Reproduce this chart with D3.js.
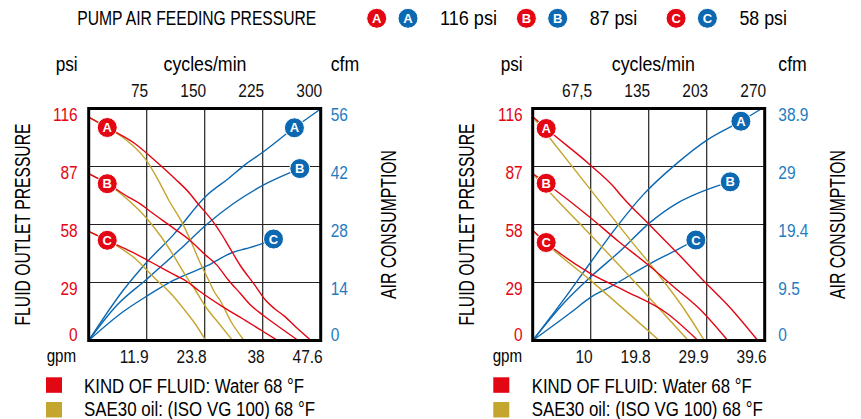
<!DOCTYPE html>
<html>
<head>
<meta charset="utf-8">
<script src="https://cdn.jsdelivr.net/npm/d3@7"></script>
<style>
  body { margin: 0; background: #fff; }
  svg text { font-family: "Liberation Sans", Arial, "DejaVu Sans", sans-serif; }
  svg text.badge { font-weight: bold; }
</style>
</head>
<body>
<svg id="vis" width="861" height="419"></svg>
<script>
// ---- data ----
const feedLetters = ["A", "B", "C"];
const feedPressures = ["116 psi", "87 psi", "58 psi"];
const fluidNames = ["KIND OF FLUID: Water 68 °F", "SAE30 oil: (ISO VG 100) 68 °F"];

const psiLabels = ["0", "29", "58", "87", "116"];
const leftCycleLabels = ["75", "150", "225", "300"];
const leftGpmLabels = ["11.9", "23.8", "38", "47.6"];
const leftCfmLabels = ["0", "14", "28", "42", "56"];
const rightCycleLabels = ["67,5", "135", "203", "270"];
const rightGpmLabels = ["10", "19.8", "29.9", "39.6"];
const rightCfmLabels = ["0", "9.5", "19.4", "29", "38.9"];

// [cycles/min, psi] for fluid curves, [cycles/min, cfm] for air curves
const leftWaterA = [[0,111.7],[24,106.5],[60,98.4],[86,89.9],[111.6,80.9],[131,73.4],[140,69],[161,59.3],[172,53],[180.4,47.6],[196,37.5],[214.8,27.7],[228,20.5],[240,16],[253,12.2],[270,6],[286,0.5]];
const leftWaterB = [[0,83.4],[24,78.4],[51.4,71.7],[66.6,68.3],[81.5,64],[107.4,56.8],[131.2,50],[150.3,43],[165.8,37.7],[180,30.5],[195.9,23.6],[210,17.5],[226,12.5],[249,6],[269,0.5]];
const leftWaterC = [[0,54.6],[24,50.1],[55.7,44.3],[81.5,39],[111.6,32.7],[127,29.5],[141.7,25.1],[171.9,17.2],[201.9,10.2],[223.5,5],[242,0.5]];
const leftOilA = [[0,111.7],[24,106.5],[49.3,100],[72.9,90.9],[90.1,80.1],[103,70.5],[120.3,59.3],[131.2,50.5],[143.9,39],[152.8,32],[163,24],[170,20],[184.7,9],[200,0.5]];
const leftOilB = [[0,83.4],[24,78.4],[51.4,70.1],[72.9,62],[94.4,51.5],[109.4,42.7],[124.5,33],[137.4,25.5],[152.8,16],[167.5,9],[185,0.5]];
const leftOilC = [[0,54.6],[24,50.1],[60,41],[85.8,31],[101.1,25.5],[107.4,23],[124.5,15],[137.4,8.5],[150.5,0.5]];
const leftAirA = [[0,0],[44.9,12.2],[70.7,18],[109.4,25.5],[152.5,35],[180,39],[204.1,42.7],[225.5,45.5],[264.2,51.1],[300,55.9]];
const leftAirB = [[0,0],[36.4,8.5],[75,14.8],[118.1,22],[152.5,28],[186.8,33],[229.9,37.9],[273,41.5]];
const leftAirC = [[0,0],[44.9,7],[75,10.7],[109.4,14.5],[152.5,18],[186.8,21.3],[204.1,22.2],[226,23.5],[239,24.5]];

const rightWaterA = [[0,111.9],[15.7,106],[66.9,87.8],[94,77],[103.8,72],[136.7,57.5],[170,43],[202.7,28.2],[228.7,16.9],[261,0.5]];
const rightWaterB = [[0,83.5],[15.7,78.6],[66.9,61.5],[100,49.5],[136.7,37],[165,26.5],[194.9,15.5],[226,0.5]];
const rightWaterC = [[0,55],[15.7,49],[66.9,33.6],[105.7,25.2],[156.2,13.6],[191,0.5]];
const rightOilA = [[0,111.9],[15.7,103.5],[76.6,70.3],[113.5,50.3],[144.5,34],[175,16.5],[199,0.5]];
const rightOilB = [[0,83.5],[15.7,76],[66.9,53],[129,24.5],[180,0.5]];
const rightOilC = [[0,55],[15.7,48.5],[66.9,30.2],[146,0.5]];
const rightAirA = [[0,0],[35.8,6.8],[66.9,13],[98,19.1],[129,24.5],[167.8,29.7],[202.7,33.6],[241.5,36.7],[266.7,38.9]];
const rightAirB = [[0,0],[35.8,6.2],[66.9,10.6],[101.8,15],[136.7,19.8],[167.8,23],[202.7,25.3],[229.9,26.6]];
const rightAirC = [[0,0],[43.6,4.6],[66.9,7.2],[90.2,9],[136.7,12.9],[167.8,15.2],[189.1,16.85]];

// where the A/B/C badges sit along the curves (cycles/min)
const leftWaterBadgeAt = 24;
const leftAirBadgeAt = [266, 273, 239];
const rightWaterBadgeAt = 15.7;
const rightAirBadgeAt = [242.3, 229.9, 189.9];

// ---- layout ----
const SIZE = 232;
const TOP = 108.5;
const BOTTOM = TOP + SIZE;
const PSI_MAX = 116;

const RED = "#e30613", BLUE = "#0b68b1", GOLD = "#c4a52e";
const RED_TXT = "#e30613", BLUE_TXT = "#1f7cc1";

const svg = d3.select("#vis");

// the original uses a condensed face: squeeze the text horizontally
function condense(sel, f) {
    sel.each(function(){
        const w = this.getComputedTextLength();
        d3.select(this).attr("textLength", w * f).attr("lengthAdjust", "spacingAndGlyphs");
    });
}

// value of a polyline series at a given x, linear between read points
function valueAt(series, c) {
    for (let i = 1; i < series.length; i++) {
        if (c <= series[i][0]) {
            const a = series[i - 1], b = series[i];
            return a[1] + (b[1] - a[1]) * (c - a[0]) / (b[0] - a[0]);
        }
    }
    return series[series.length - 1][1];
}

function badge(g, cx, cy, letter, fill) {
    g.append("circle").attr("cx", cx).attr("cy", cy).attr("r", 10)
        .attr("fill", fill).attr("stroke", "#fff").attr("stroke-width", 1);
    g.append("text").attr("class", "badge")
        .attr("x", cx).attr("y", cy + 4.6)
        .attr("text-anchor", "middle").attr("font-size", 13)
        .attr("fill", "#fff").text(letter);
}

// ---- header ----
svg.append("text").attr("x", 77.3).attr("y", 25)
    .attr("font-size", 20).attr("textLength", 239).attr("lengthAdjust", "spacingAndGlyphs")
    .text("PUMP AIR FEEDING PRESSURE");

feedLetters.forEach(function(l, i){
    const base = 376.7 + i * 149.7;
    badge(svg, base, 18.3, l, RED);
    badge(svg, base + 31.3, 18.3, l, BLUE);
    svg.append("text").attr("x", base + 63.3).attr("y", 25)
        .attr("font-size", 20).attr("textLength", i === 0 ? 57 : 47.5)
        .attr("lengthAdjust", "spacingAndGlyphs")
        .text(feedPressures[i]);
});

// ---- one chart ----
function drawChart(cfg) {
    const g = svg.append("g");
    const x = d3.scaleLinear().domain([0, cfg.cyclesMax]).range([cfg.x0, cfg.x0 + SIZE]);
    const yP = d3.scaleLinear().domain([0, PSI_MAX]).range([BOTTOM, TOP]);
    const yC = d3.scaleLinear().domain([0, cfg.cfmMax]).range([BOTTOM, TOP]);

    const xTicks = [1, 2, 3, 4].map(i => cfg.cyclesMax * i / 4);
    const psiTicks = [0, 1, 2, 3, 4].map(i => PSI_MAX * i / 4);
    const cfmTicks = [0, 1, 2, 3, 4].map(i => cfg.cfmMax * i / 4);

    // grid
    g.selectAll("line.vg").data(xTicks.slice(0, 3)).join("line")
        .attr("x1", d => x(d)).attr("x2", d => x(d))
        .attr("y1", TOP).attr("y2", BOTTOM)
        .attr("stroke", "#222").attr("stroke-width", 1.2);
    g.selectAll("line.hg").data(psiTicks.slice(1, 4)).join("line")
        .attr("y1", d => yP(d)).attr("y2", d => yP(d))
        .attr("x1", cfg.x0).attr("x2", cfg.x0 + SIZE)
        .attr("stroke", "#222").attr("stroke-width", 1.2);

    // axes: cycles on top, gpm at bottom, psi left, cfm right
    g.append("g").attr("transform", `translate(0,${TOP - 12})`)
        .call(d3.axisTop(x).tickValues(xTicks).tickSize(0).tickPadding(0)
            .tickFormat((d, i) => cfg.cycles[i]))
        .attr("font-size", 18).attr("font-family", null)
        .call(a => a.select(".domain").remove())
        .selectAll("text").attr("text-anchor", "end").attr("x", 1).attr("dy", 0).attr("fill", "#111")
        .call(condense, 0.86);

    g.append("g").attr("transform", `translate(0,${BOTTOM + 22.5})`)
        .call(d3.axisBottom(x).tickValues(xTicks).tickSize(0).tickPadding(0)
            .tickFormat((d, i) => cfg.gpm[i]))
        .attr("font-size", 18).attr("font-family", null)
        .call(a => a.select(".domain").remove())
        .selectAll("text").attr("text-anchor", "end").attr("x", 1.5).attr("y", 0).attr("dy", 0).attr("fill", "#111")
        .call(condense, 0.86);

    g.append("g").attr("transform", `translate(${cfg.leftTickEnd},0)`)
        .call(d3.axisLeft(yP).tickValues(psiTicks).tickSize(0).tickPadding(0)
            .tickFormat((d, i) => psiLabels[i]))
        .attr("font-size", 18).attr("font-family", null)
        .call(a => a.select(".domain").remove())
        .selectAll("text").attr("x", 0).attr("dy", 0)
        .attr("y", d => d === 0 ? 0 : 11.5).attr("fill", RED_TXT)
        .call(condense, 0.86);

    g.append("g").attr("transform", `translate(${cfg.rightTickStart},0)`)
        .call(d3.axisRight(yC).tickValues(cfmTicks).tickSize(0).tickPadding(0)
            .tickFormat((d, i) => cfg.cfm[i]))
        .attr("font-size", 18).attr("font-family", null)
        .call(a => a.select(".domain").remove())
        .selectAll("text").attr("x", 0).attr("dy", 0)
        .attr("y", d => d === 0 ? 0 : 11.5).attr("fill", BLUE_TXT)
        .call(condense, 0.86);

    // titles
    g.append("text").attr("x", cfg.leftTickEnd).attr("y", 70.5).attr("text-anchor", "end")
        .attr("font-size", 20).attr("textLength", 22).attr("lengthAdjust", "spacingAndGlyphs").text("psi");
    g.append("text").attr("x", cfg.cyclesX).attr("y", 70.5).attr("text-anchor", "middle")
        .attr("font-size", 20).attr("textLength", 83).attr("lengthAdjust", "spacingAndGlyphs").text("cycles/min");
    g.append("text").attr("x", cfg.rightTickStart).attr("y", 70.5)
        .attr("font-size", 20).attr("textLength", 28.5).attr("lengthAdjust", "spacingAndGlyphs").text("cfm");
    g.append("text").attr("x", cfg.col).attr("y", 361.5)
        .attr("font-size", 18).attr("textLength", 29.5).attr("lengthAdjust", "spacingAndGlyphs").text("gpm");

    const midY = (TOP + BOTTOM) / 2;
    const fx = cfg.x0 - 66.7 + 8;
    g.append("text").attr("transform", `translate(${fx},${midY}) rotate(-90)`)
        .attr("text-anchor", "middle").attr("font-size", 22)
        .attr("textLength", 202).attr("lengthAdjust", "spacingAndGlyphs")
        .text("FLUID OUTLET PRESSURE");
    const ax = cfg.airX + 8;
    g.append("text").attr("transform", `translate(${ax},${midY}) rotate(-90)`)
        .attr("text-anchor", "middle").attr("font-size", 22)
        .attr("textLength", 149).attr("lengthAdjust", "spacingAndGlyphs")
        .text("AIR CONSUMPTION");

    // curves
    const lineP = d3.line().x(d => x(d[0])).y(d => yP(d[1])).curve(d3.curveMonotoneX);
    const lineC = d3.line().x(d => x(d[0])).y(d => yC(d[1])).curve(d3.curveMonotoneX);

    g.selectAll("path.air").data(cfg.air).join("path")
        .attr("d", lineC).attr("fill", "none").attr("stroke", BLUE).attr("stroke-width", 1.4);
    g.selectAll("path.oil").data(cfg.oil).join("path")
        .attr("d", lineP).attr("fill", "none").attr("stroke", GOLD).attr("stroke-width", 1.4);
    g.selectAll("path.water").data(cfg.water).join("path")
        .attr("d", lineP).attr("fill", "none").attr("stroke", RED).attr("stroke-width", 1.4);

    // frame
    g.append("rect").attr("x", cfg.x0).attr("y", TOP).attr("width", SIZE).attr("height", SIZE)
        .attr("fill", "none").attr("stroke", "#000").attr("stroke-width", 3);

    // badges
    cfg.water.forEach(function(s, i){
        const c = cfg.waterBadgeAt;
        badge(g, x(c), yP(valueAt(s, c)), feedLetters[i], RED);
    });
    cfg.air.forEach(function(s, i){
        const c = cfg.airBadgeAt[i];
        badge(g, x(c), yC(valueAt(s, c)), feedLetters[i], BLUE);
    });

    // legend
    [RED, GOLD].forEach(function(col, i){
        g.append("rect").attr("x", cfg.legX).attr("y", 377.3 + i * 24.7)
            .attr("width", 16).attr("height", 15.5).attr("fill", col);
        g.append("text").attr("x", cfg.legTextX).attr("y", 393 + i * 23)
            .attr("font-size", 20)
            .attr("textLength", i === 0 ? 220 : 231).attr("lengthAdjust", "spacingAndGlyphs")
            .text(fluidNames[i]);
    });
}

drawChart({
    x0: 88.7, cyclesMax: 300, cfmMax: 56,
    cycles: leftCycleLabels, gpm: leftGpmLabels, cfm: leftCfmLabels,
    water: [leftWaterA, leftWaterB, leftWaterC],
    oil: [leftOilA, leftOilB, leftOilC],
    air: [leftAirA, leftAirB, leftAirC],
    waterBadgeAt: leftWaterBadgeAt, airBadgeAt: leftAirBadgeAt,
    leftTickEnd: 77.7, rightTickStart: 330.7, cyclesX: 205, airX: 388.3,
    col: 46.7, legX: 46, legTextX: 84
});

drawChart({
    x0: 532.7, cyclesMax: 270, cfmMax: 38.9,
    cycles: rightCycleLabels, gpm: rightGpmLabels, cfm: rightCfmLabels,
    water: [rightWaterA, rightWaterB, rightWaterC],
    oil: [rightOilA, rightOilB, rightOilC],
    air: [rightAirA, rightAirB, rightAirC],
    waterBadgeAt: rightWaterBadgeAt, airBadgeAt: rightAirBadgeAt,
    leftTickEnd: 522.7, rightTickStart: 778.3, cyclesX: 653.3, airX: 836.7,
    col: 492.7, legX: 493.3, legTextX: 531.7
});
</script>
</body>
</html>
